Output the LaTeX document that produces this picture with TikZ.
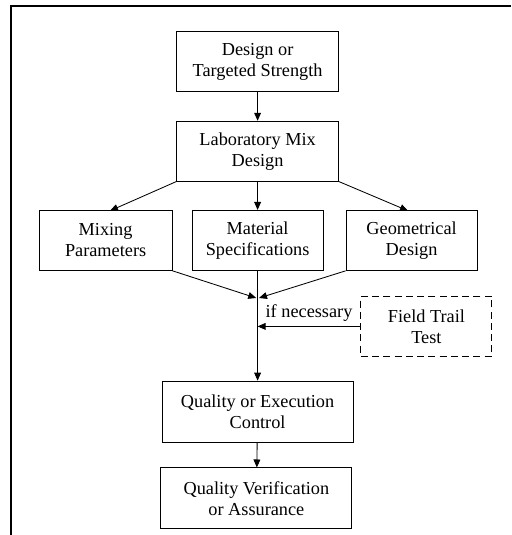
\documentclass[tikz,border=0pt]{standalone}
\usepackage{fontspec}
\setmainfont{Liberation Serif}
\usetikzlibrary{positioning, arrows.meta}

\begin{document}
\begin{tikzpicture}[
    >={Triangle[length=2mm, width=1.7mm]},
    every node/.style = {font=\fontsize{13}{15}\selectfont},
    stepbox/.style    = {rectangle, draw=black, line width=0.6pt, align=center, minimum height=1.5cm},
    trialbox/.style   = {stepbox, dashed, dash pattern=on 5pt off 3pt},
    link/.style       = {line width=0.6pt},
]
\useasboundingbox (0, 0) rectangle (12.775, -13.375);

% frame of the figure
\draw[line width=1.8pt] (0.275, -13.375) -- (0.275, -0.15) -- (12.775, -0.15);

% top of the chain
\node[stepbox, minimum width=4.05cm] (target) at (6.44, -1.54) {Design or\\Targeted Strength};
\node[stepbox, minimum width=4.05cm] (labmix) at (6.44, -3.78) {Laboratory Mix\\Design};

% three design branches
\node[stepbox, minimum width=3.325cm] (mixing)   at (2.64, -6.01)  {Mixing\\Parameters};
\node[stepbox, minimum width=3.275cm] (material) at (6.44, -6.01)  {Material\\Specifications};
\node[stepbox, minimum width=3.275cm] (geom)     at (10.29, -6.01) {Geometrical\\Design};

% field trial, dashed
\node[trialbox, minimum width=3.275cm] (field) at (10.66, -8.16) {Field Trail\\Test};

% control and verification
\node[stepbox, minimum width=4.775cm, minimum height=1.525cm] (qcontrol) at (6.44, -10.29) {Quality or Execution\\Control};
\node[stepbox, minimum width=4.775cm, minimum height=1.525cm] (qverify)  at (6.41, -12.46) {Quality Verification\\or Assurance};

% meeting point under the branches
\coordinate (merge) at (6.44, -7.45);

% edges
\draw[link, ->] (target) -- (labmix);
\draw[link, ->] (labmix.south west) -- (2.75, -5.27);
\draw[link, ->] (labmix) -- (material);
\draw[link, ->] (labmix.south east) -- (10.2, -5.27);

\draw[link, ->] (mixing.south east) -- ([xshift=-1pt]merge);
\draw[link, ->] (geom.south west) -- ([xshift=1pt]merge);
\draw[link, ->] (material) -- (qcontrol);

\draw[link, ->] (field.west) -- (field.west -| material.south) node[midway, above] {if necessary};

\draw[link, ->] (qcontrol) -- (qverify);

\end{tikzpicture}
\end{document}
